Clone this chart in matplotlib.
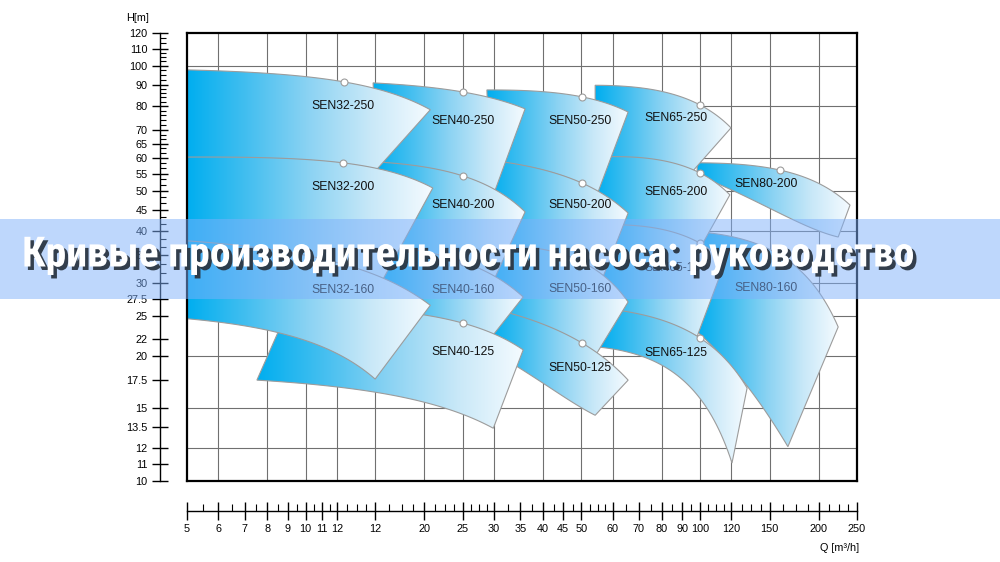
import numpy as np
import matplotlib
matplotlib.use('Agg')
import matplotlib.pyplot as plt
import matplotlib.patheffects as pe
from matplotlib.patches import Polygon, Rectangle
from matplotlib.colors import LinearSegmentedColormap
from matplotlib.ticker import FixedLocator, FixedFormatter, NullLocator, NullFormatter
from matplotlib import font_manager

plt.rcParams['font.family'] = ['Liberation Sans', 'DejaVu Sans']

# pump working ranges, Q in m3/h, H in m
# order = drawing order (right family first, so the left ones sit on top)
models = ['SEN80-200', 'SEN80-160',
          'SEN65-250', 'SEN65-200', 'SEN65-160', 'SEN65-125',
          'SEN50-250', 'SEN50-200', 'SEN50-160', 'SEN50-125',
          'SEN40-250', 'SEN40-200', 'SEN40-160', 'SEN40-125',
          'SEN32-250', 'SEN32-200', 'SEN32-160']

# upper H-Q curve: left end, best point (circle marker), right end
top_q = [[98.3, 159.5, 240], [100, 159.5, 224],
         [54.2, 100, 119.8], [54.2, 100, 119], [54.2, 100, 115.7], [55.8, 100, 131.6],
         [28.8, 50.2, 65.7], [29.3, 50.2, 65.7], [29.3, 50.2, 65.7], [29.3, 50.2, 65.7],
         [14.82, 25.06, 36.0], [15.17, 25.06, 36.0], [15.5, 25.06, 35.6], [9.12, 25.06, 35.6],
         [5, 12.5, 20.7], [5, 12.43, 21.0], [5, 12.43, 20.7]]
top_h = [[58.4, 56.1, 46.2], [39.8, 35.0, 23.5],
         [89.8, 80.5, 70.9], [60.3, 55.2, 48.9], [41.4, 37.4, 33.7], [26.1, 22.1, 16.75],
         [87.5, 84.2, 77.4], [59.3, 52.2, 44.2], [37.0, 33.7, 27.0], [26.1, 21.5, 17.5],
         [91.0, 86.5, 78.8], [58.7, 54.3, 44.5], [37.0, 33.7, 27.75], [26.5, 24.0, 20.7],
         [97.8, 91.5, 78.4], [60.3, 58.4, 50.8], [37.9, 33.3, 26.5]]

# lower H-Q curve: left end, middle, right end
bot_q = [[98.3, 147.9, 224], [98.3, 126.3, 167],
         [54.2, 75, 96], [54.2, 74.7, 101], [55.8, 82.5, 98.3], [55.8, 90.5, 120.5],
         [29.3, 50.2, 55.1], [29.3, 50.2, 56.8], [29.3, 50.2, 54.7], [30.2, 40.0, 54.2],
         [15.17, 25.06, 30.2], [15.5, 25.06, 30.2], [15.5, 25.06, 29.9], [7.52, 14.8, 29.9],
         [5, 9.7, 15.17], [5, 11.73, 15.7], [5, 7.97, 15.0]]
bot_h = [[54.6, 45.7, 38.7], [22.9, 17.8, 12.1],
         [60.0, 59.4, 55.9], [41.1, 40.6, 37.0], [25.9, 24.0, 22.3], [21.0, 17.5, 11.05],
         [59.0, 52.0, 49.6], [36.8, 33.5, 31.1], [25.9, 21.4, 20.3], [20.3, 17.2, 14.4],
         [58.5, 54.1, 50.1], [36.8, 33.5, 30.9], [25.7, 23.9, 22.5], [17.5, 16.4, 13.4],
         [60.1, 59.4, 56.4], [37.7, 33.6, 30.6], [24.6, 23.1, 17.6]]

label_q = [146.6, 146.6, 87.0, 87.0, 87.0, 87.0, 49.5, 49.5, 49.5, 49.5,
           25.06, 25.06, 25.06, 25.06, 12.43, 12.43, 12.43]
label_h = [51.8, 29.2, 75.0, 49.7, 32.6, 20.3, 73.6, 46.2, 29.0, 18.7,
           73.8, 46.2, 28.8, 20.5, 80.1, 51.1, 28.8]

# axis rulers
h_ticks = [10, 11, 12, 13.5, 15, 17.5, 20, 22, 25, 27.5, 30, 35, 40, 45, 50, 55,
           60, 65, 70, 80, 90, 100, 110, 120]
h_minor = [31.7, 33.3, 36.7, 38.3, 41.7, 43.3, 46.7, 48.3, 51.7, 53.3, 56.7, 58.3,
           61.7, 63.3, 66.7, 68.3, 72, 74, 76, 78, 82, 84, 86, 88,
           92.5, 95, 97.5, 102.5, 105, 107.5, 113.3, 116.7]
q_ticks = [5, 6, 7, 8, 9, 10, 11, 12, 15, 20, 25, 30, 35, 40, 45, 50, 60, 70, 80, 90,
           100, 120, 150, 200, 250]
q_tick_labels = ['5', '6', '7', '8', '9', '10', '11', '12', '12', '20', '25', '30', '35',
                 '40', '45', '50', '60', '70', '80', '90', '100', '120', '150', '200', '250']
q_minor = [5.5, 6.5, 7.5, 8.5, 9.5, 10.5, 11.5, 12.75, 13.5, 14.25, 16.25, 17.5, 18.75,
           21.25, 22.5, 23.75, 26.25, 27.5, 28.75, 32.5, 37.5, 42.5, 47.5, 52.5, 55, 57.5,
           65, 75, 85, 95, 105, 110, 115, 127.5, 135, 142.5, 162.5, 175, 187.5,
           212.5, 225, 237.5]
grid_q = [6, 8, 10, 12, 15, 20, 25, 30, 40, 50, 60, 80, 100, 120, 150, 200]
grid_h = [12, 15, 20, 25, 30, 40, 50, 60, 80, 100]

title = 'Кривые производительности насоса: руководство'


def curve(qs, hs, n=60):
    c = np.polyfit(qs, hs, 2)
    q = np.geomspace(qs[0], qs[-1], n)
    return q, np.polyval(c, q)


fig = plt.figure(figsize=(10, 5.62), dpi=100)
ax = fig.add_axes([0.187, 0.1441, 0.670, 0.7972])
ax.set_xscale('log')
ax.set_yscale('log')
ax.set_xlim(5, 250)
ax.set_ylim(10, 120)
ax.set_autoscale_on(False)
ax.xaxis.set_major_locator(FixedLocator(grid_q))
ax.yaxis.set_major_locator(FixedLocator(grid_h))
ax.xaxis.set_minor_locator(NullLocator())
ax.yaxis.set_minor_locator(NullLocator())
ax.tick_params(which='both', length=0, labelbottom=False, labelleft=False)
ax.grid(True, color='#707070', lw=0.8)
ax.set_axisbelow(True)
for s in ax.spines.values():
    s.set_linewidth(1.6)
    s.set_zorder(40)

cmap = LinearSegmentedColormap.from_list(
    'pump', ['#00aeef', '#45bff0', '#8cd3f3', '#c8e8f8', '#f5fbff'])
grad = np.linspace(0, 1, 256).reshape(1, -1)
to_axes = ax.transData + ax.transAxes.inverted()

for i, name in enumerate(models):
    z = 2 + i * 0.1
    tq, th = curve(top_q[i], top_h[i])
    bq, bh = curve(bot_q[i], bot_h[i])
    verts = np.vstack([np.column_stack([tq, th]), np.column_stack([bq, bh])[::-1]])
    poly = Polygon(verts, closed=True, facecolor='none', edgecolor='#9c9c9c',
                   lw=0.8, zorder=z + 0.05)
    ax.add_patch(poly)
    va = to_axes.transform(verts)
    im = ax.imshow(grad, cmap=cmap, aspect='auto', interpolation='bilinear',
                   extent=(va[:, 0].min(), va[:, 0].max(), va[:, 1].min(), va[:, 1].max()),
                   transform=ax.transAxes, zorder=z)
    im.set_clip_path(poly)

bep_q = [t[1] for t in top_q]
bep_h = [t[1] for t in top_h]
ax.plot(bep_q, bep_h, 'o', ms=5, mfc='white', mec='#9c9c9c', mew=0.8, zorder=30)
for name, lq, lh in zip(models, label_q, label_h):
    ax.text(lq, lh, name, ha='center', va='center', fontsize=8.8, color='#111111', zorder=31)

# H ruler on the left
ay = fig.add_axes([0.160, 0.1441, 0.02, 0.7972])
ay.set_yscale('log')
ay.set_ylim(10, 120)
ay.patch.set_visible(False)
for s in ['top', 'right', 'bottom']:
    ay.spines[s].set_visible(False)
ay.spines['left'].set_linewidth(1.0)
ay.set_xticks([])
ay.yaxis.set_major_locator(FixedLocator(h_ticks))
ay.yaxis.set_major_formatter(FixedFormatter([f'{v:g}' for v in h_ticks]))
ay.yaxis.set_minor_locator(FixedLocator(h_minor))
ay.yaxis.set_minor_formatter(NullFormatter())
ay.tick_params(axis='y', which='major', direction='inout', length=12, width=1.0,
               labelsize=7.8, pad=3)
ay.tick_params(axis='y', which='minor', direction='in', length=4.5, width=0.8)

# Q ruler below
aq = fig.add_axes([0.187, 1 - 511 / 562, 0.670, 0.02])
aq.set_xscale('log')
aq.set_xlim(5, 250)
aq.patch.set_visible(False)
for s in ['top', 'right', 'left']:
    aq.spines[s].set_visible(False)
aq.spines['bottom'].set_linewidth(1.0)
aq.set_yticks([])
aq.xaxis.set_major_locator(FixedLocator(q_ticks))
aq.xaxis.set_major_formatter(FixedFormatter(q_tick_labels))
aq.xaxis.set_minor_locator(FixedLocator(q_minor))
aq.xaxis.set_minor_formatter(NullFormatter())
aq.tick_params(axis='x', which='major', direction='inout', length=13, width=1.0,
               labelsize=7.8, pad=3)
aq.tick_params(axis='x', which='minor', direction='in', length=5, width=0.8)

fig.text(0.138, 1 - 18 / 562, 'H[m]', ha='center', va='center', fontsize=7.8)
fig.text(0.840, 1 - 548 / 562, 'Q [m³/h]', ha='center', va='center', fontsize=7.8)

# banner across the chart
band = Rectangle((0, 1 - 299 / 562), 1, 80 / 562, transform=fig.transFigure,
                 facecolor='#7eb0fb', edgecolor='none', alpha=0.5, zorder=10)
fig.add_artist(band)

installed = {f.name for f in font_manager.fontManager.ttflist}
title_family = next((f for f in ['Liberation Sans Narrow', 'Roboto Condensed',
                                 'Open Sans Condensed'] if f in installed), 'DejaVu Sans')
t = fig.text(0.4685, 1 - 255 / 562, title, ha='center', va='center', fontsize=30,
             fontweight='bold', fontstretch='condensed', family=title_family,
             color='white', zorder=11,
             path_effects=[pe.withSimplePatchShadow(offset=(2.5, -2.5),
                                                    shadow_rgbFace='#2b3642', alpha=0.95)])
fig.canvas.draw()
w = t.get_window_extent().width
t.set_fontsize(30 * 893 / w)

fig.savefig('out.png', dpi=100)
